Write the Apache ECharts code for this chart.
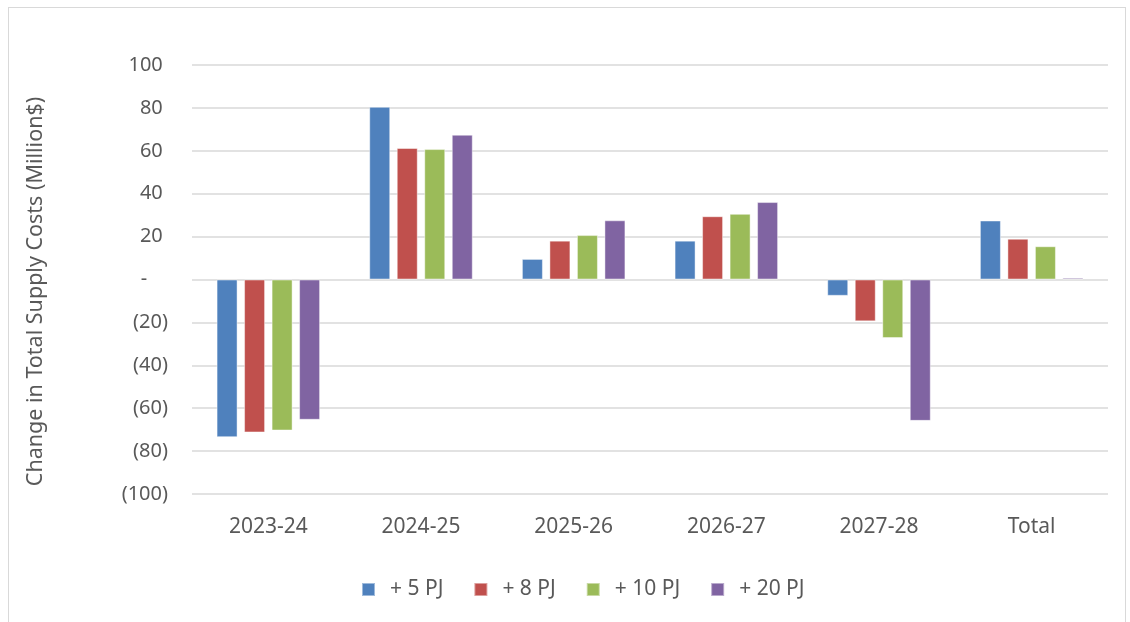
<!DOCTYPE html>
<html>
<head>
<meta charset="utf-8">
<script src="https://cdn.jsdelivr.net/npm/echarts@6/dist/echarts.min.js"></script>
<style>
  html, body { margin: 0; padding: 0; background: #fff; }
  #frame { position: absolute; left: 8px; top: 7px; width: 1116px; height: 640px; border: 1px solid #d9d9d9; }
  #chart { position: absolute; left: 0; top: 0; width: 1130px; height: 622px; }
</style>
</head>
<body>
<div id="frame"></div>
<div id="chart"></div>
<script>
const categories = ['2023-24', '2024-25', '2025-26', '2026-27', '2027-28', 'Total'];
const seriesNames = ['+ 5 PJ', '+ 8 PJ', '+ 10 PJ', '+ 20 PJ'];
const pj5 = [-73.5, 80.5, 9.6, 18.1, -7.6, 27.5];
const pj8 = [-71.3, 61.3, 18.1, 29.5, -19.5, 19.0];
const pj10 = [-70.4, 60.8, 20.7, 30.6, -27.3, 15.5];
const pj20 = [-65.4, 67.5, 27.6, 36.1, -65.9, 0.8];
const colors = ['#4F81BD', '#C0504D', '#9BBB59', '#8064A2'];

const font = "'Noto Sans', 'Open Sans', sans-serif";
const textColor = '#595959';

// excel accounting style: (20) for negatives, "-" for zero
function fmt(v) {
  if (v < 0) return '(' + (-v) + ')';
  if (v === 0) return '-    ';
  return v + ' ';
}

const chart = echarts.init(document.getElementById('chart'));
const data = [pj5, pj8, pj10, pj20];

chart.setOption({
  animation: false,
  color: colors,
  grid: { left: 192, right: 22, top: 65, bottom: 128 },
  legend: {
    bottom: 17,
    left: 356,
    itemWidth: 13,
    itemHeight: 13,
    itemGap: 30,
    icon: 'rect',
    textStyle: { color: textColor, fontSize: 21, fontFamily: font, padding: [0, 0, 0, 10] },
    data: seriesNames
  },
  xAxis: {
    type: 'category',
    data: categories,
    axisLine: { show: false, onZero: false },
    axisTick: { show: false },
    axisLabel: { color: textColor, fontSize: 21, fontFamily: font, margin: 23 }
  },
  yAxis: {
    type: 'value',
    min: -100,
    max: 100,
    interval: 20,
    name: 'Change in Total Supply Costs (Million$)',
    nameLocation: 'middle',
    nameGap: 145,
    nameRotate: 90,
    nameTextStyle: { color: textColor, fontSize: 21.5, fontFamily: font, padding: [0, 24, 0, 0] },
    axisLine: { show: false },
    axisTick: { show: false },
    splitLine: { lineStyle: { color: '#d9d9d9', width: 1.5 } },
    axisLabel: { color: textColor, fontSize: 20, fontFamily: font, margin: 24, formatter: fmt }
  },
  series: data.map((d, i) => ({
    name: seriesNames[i],
    type: 'bar',
    data: d,
    barWidth: 21,
    barGap: '31%',
    itemStyle: { borderColor: 'rgba(255,255,255,0.45)', borderWidth: 1 }
  }))
});
</script>
</body>
</html>
